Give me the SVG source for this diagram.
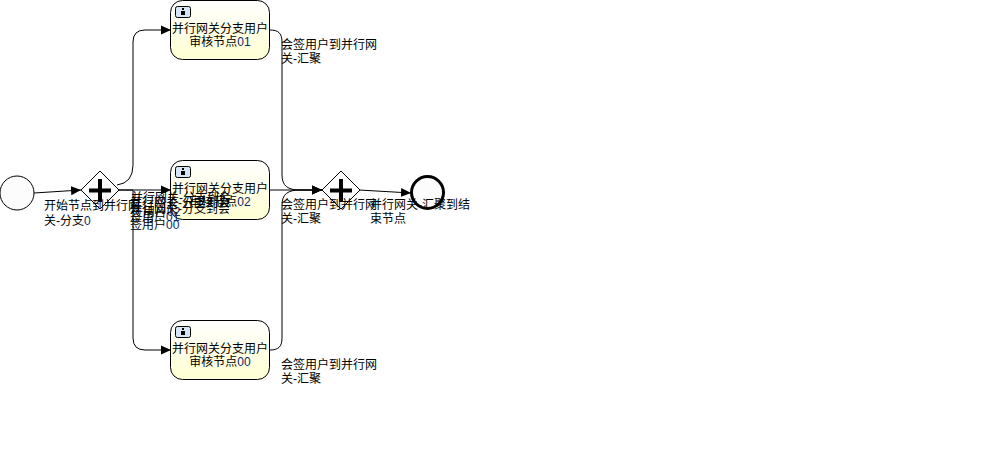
<svg xmlns="http://www.w3.org/2000/svg" width="1008" height="458" viewBox="0 0 1008 458">
<style>
text{font-family:"Liberation Sans","Noto Sans CJK SC",sans-serif;font-size:12px;fill:#000}
.m{text-anchor:middle}
.d{fill:#0a2a6a}
.task{fill:url(#tg);stroke:#000;stroke-width:1}
.gw{fill:url(#gg);stroke:#000;stroke-width:1}
.plus{fill:none;stroke:#000;stroke-width:4}
.c{fill:none;stroke:#000;stroke-width:1;marker-end:url(#a)}
.ic{fill:#d6e8f7;stroke:#000;stroke-width:1}
</style>
<defs>
<linearGradient id="tg" x1="0" y1="0" x2="0" y2="1"><stop offset="0" stop-color="#ffffff"/><stop offset="1" stop-color="#ffffd2"/></linearGradient>
<linearGradient id="gg" x1="0" y1="0" x2="0" y2="1"><stop offset="0" stop-color="#ffffff"/><stop offset="1" stop-color="#f8f8f8"/></linearGradient>
<marker id="a" markerUnits="userSpaceOnUse" markerWidth="11" markerHeight="10" refX="10" refY="5" orient="auto"><path d="M0,0.500L10,5L0,9.500Z" fill="#000"/></marker>
</defs>
<g id="connectors">
<path class="c" d="M34,193L81,190"/>
<path class="c" d="M117,185Q133,183 133,165V42Q133,30 145,30H171"/>
<path class="c" d="M119,190H171"/>
<path class="c" d="M119,190H133V338Q133,350 145,350H171"/>
<path class="c" d="M270,30C278,30 282,33 282,42V175C282,186 288,190 300,190H322"/>
<path class="c" d="M270,190H322"/>
<path class="c" d="M270,350C278,350 282,347 282,338V205C282,194 288,190 300,190H322"/>
<path class="c" d="M359,190L411,193"/>
</g>
<g id="start"><circle cx="17" cy="193" r="17" fill="#fcfcfc" stroke="#000"/></g>
<g id="gateway-split"><path class="gw" d="M100,171L119,190L100,209L81,190Z"/><path class="plus" d="M100,179V202M89,190.500H111"/></g>
<g id="task-01"><rect class="task" x="170.500" y="0.500" width="99" height="59" rx="12"/><rect class="ic" x="175.500" y="6.500" width="15" height="11" rx="2"/><path d="M182,8h2v2h-2zM181,11h4v4h-4z" fill="#000"/><text class="m" x="220" y="33">并行网关分支用户</text><text class="m" x="220" y="46">审核节点<tspan class="d">01</tspan></text></g>
<g id="task-02"><rect class="task" x="170.500" y="160.500" width="99" height="59" rx="12"/><rect class="ic" x="175.500" y="166.500" width="15" height="11" rx="2"/><path d="M182,168h2v2h-2zM181,171h4v4h-4z" fill="#000"/><text class="m" x="220" y="193">并行网关分支用户</text><text class="m" x="220" y="206">审核节点<tspan class="d">02</tspan></text></g>
<g id="task-00"><rect class="task" x="170.500" y="320.500" width="99" height="59" rx="12"/><rect class="ic" x="175.500" y="326.500" width="15" height="11" rx="2"/><path d="M182,328h2v2h-2zM181,331h4v4h-4z" fill="#000"/><text class="m" x="220" y="353">并行网关分支用户</text><text class="m" x="220" y="366">审核节点<tspan class="d">00</tspan></text></g>
<g id="gateway-join"><path class="gw" d="M341,171L360,190L341,209L322,190Z"/><path class="plus" d="M341,179V202M330,190.500H352"/></g>
<g id="end"><circle cx="427.500" cy="192.500" r="16" fill="#fcfcfc" stroke="#000" stroke-width="3"/></g>
<g id="labels">
<text x="44" y="210">开始节点到并行网</text><text x="44" y="225">关-分支<tspan class="d">0</tspan></text>
<text x="131" y="202">并行网关-分支到会</text><text x="131" y="216">签用户<tspan class="d">02</tspan></text>
<text x="130" y="207">并行网关-分支到会</text><text x="130" y="221">签用户<tspan class="d">01</tspan></text>
<text x="130" y="213">并行网关-分支到会</text><text x="130" y="229">签用户<tspan class="d">00</tspan></text>
<text x="281" y="49">会签用户到并行网</text><text x="281" y="63">关-汇聚</text>
<text x="281" y="209">会签用户到并行网</text><text x="281" y="223">关-汇聚</text>
<text x="281" y="369">会签用户到并行网</text><text x="281" y="383">关-汇聚</text>
<text x="370" y="209">并行网关-汇聚到结</text><text x="370" y="223">束节点</text>
</g>
</svg>
